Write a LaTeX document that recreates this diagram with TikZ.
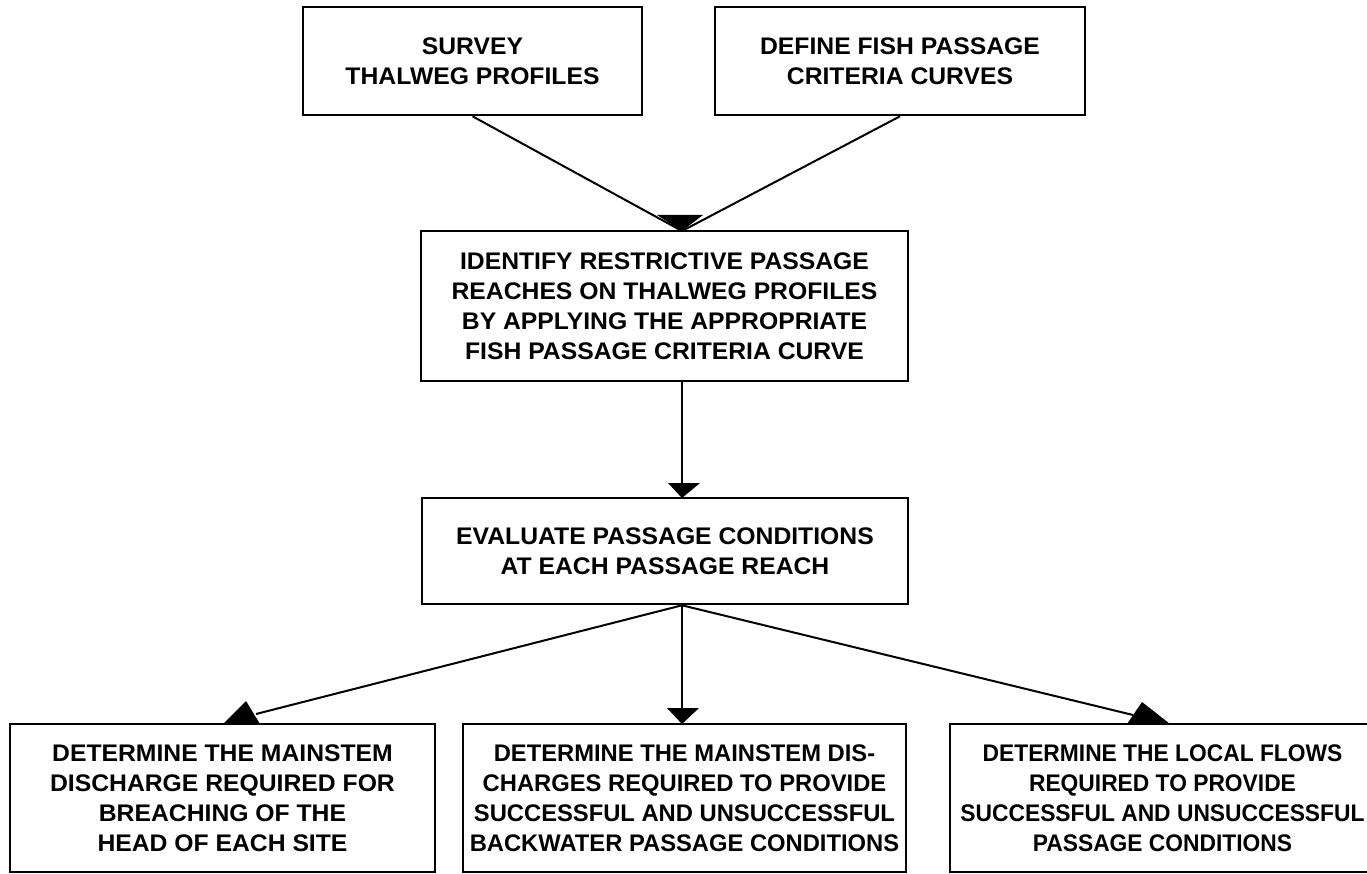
\documentclass[tikz,border=0pt]{standalone}
\usepackage{fontspec}
\setmainfont{Liberation Sans}[FakeStretch=1.03]
\newfontfamily\midfont{Liberation Sans}[FakeStretch=0.99]
\newfontfamily\narrowfont{Liberation Sans}[FakeStretch=0.95]
\begin{document}
\begin{tikzpicture}[x=1pt,y=-1pt,
  box/.style={draw=black, line width=2.6pt, inner sep=0pt, align=center,
    font=\fontsize{24}{30}\selectfont\bfseries},
  conn/.style={line width=2pt},
  tipfill/.style={fill=black}]
\useasboundingbox (0,0) rectangle (1367,874);
% boxes
\node[box, minimum width=339pt, minimum height=108pt] (A) at (472.5,61) {SURVEY\\THALWEG PROFILES};
\node[box, minimum width=370pt, minimum height=108pt] (B) at (900,61) {DEFINE FISH PASSAGE\\CRITERIA CURVES};
\node[box, minimum width=487pt, minimum height=150pt] (C) at (664.5,306) {IDENTIFY RESTRICTIVE PASSAGE\\REACHES ON THALWEG PROFILES\\BY APPLYING THE APPROPRIATE\\FISH PASSAGE CRITERIA CURVE};
\node[box, minimum width=486pt, minimum height=106pt] (D) at (665,551) {EVALUATE PASSAGE CONDITIONS\\AT EACH PASSAGE REACH};
\node[box, minimum width=425pt, minimum height=148pt] (E) at (222.5,798) {DETERMINE THE MAINSTEM\\DISCHARGE REQUIRED FOR\\BREACHING OF THE\\HEAD OF EACH SITE};
\node[box, minimum width=443pt, minimum height=148pt, font=\fontsize{24}{30}\midfont\bfseries] (F) at (684.5,798) {DETERMINE THE MAINSTEM DIS-\\CHARGES REQUIRED TO PROVIDE\\SUCCESSFUL AND UNSUCCESSFUL\\BACKWATER PASSAGE CONDITIONS};
\node[box, minimum width=425pt, minimum height=148pt, font=\fontsize{24}{30}\narrowfont\bfseries] (G) at (1162.5,798) {DETERMINE THE LOCAL FLOWS\\REQUIRED TO PROVIDE\\SUCCESSFUL AND UNSUCCESSFUL\\PASSAGE CONDITIONS};
% arrow points
\coordinate (cIn) at (682,231);
\coordinate (dIn) at (682,498);
\coordinate (fIn) at (682,724);
\coordinate (eTip) at (246,701);
\coordinate (eEnd) at (256,714);
\coordinate (gTip) at (1142,702);
\coordinate (gEnd) at (1133,715);
% connectors
\draw[conn] (A.south) -- (cIn);
\draw[conn] (B.south) -- (cIn);
\fill[tipfill] (cIn) -- ++(-25,-16) -- ++(46,0) -- cycle;
\draw[conn] (C.south -| dIn) -- (dIn);
\fill[tipfill] (dIn) -- ++(-14,-15) -- ++(32,0) -- cycle;
\draw[conn] (D.south -| dIn) -- (fIn);
\fill[tipfill] (fIn) -- ++(-15,-16) -- ++(32,0) -- cycle;
\draw[conn] (D.south -| dIn) -- (eEnd);
\fill[tipfill] (eTip) -- ++(-23,23) -- ++(37,0) -- cycle;
\draw[conn] (D.south -| dIn) -- (gEnd);
\fill[tipfill] (gTip) -- ++(-15,22) -- ++(43,0) -- cycle;
\end{tikzpicture}
\end{document}
